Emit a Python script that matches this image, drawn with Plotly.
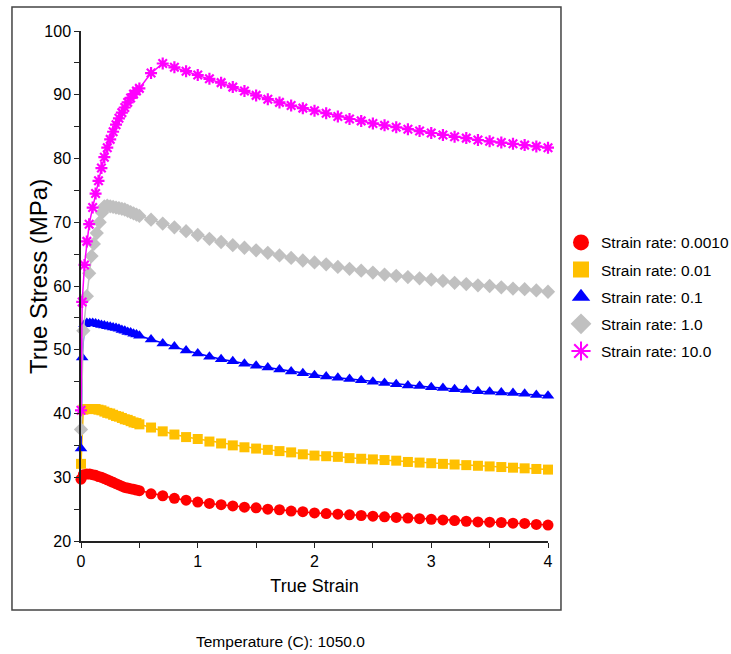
import plotly.graph_objects as go

# Shared tail strain values (0.6 .. 4.0)
strain_tail = [0.6, 0.7, 0.8, 0.9, 1.0, 1.1, 1.2, 1.3, 1.4, 1.5, 1.6, 1.7, 1.8, 1.9, 2.0,
               2.1, 2.2, 2.3, 2.4, 2.5, 2.6, 2.7, 2.8, 2.9, 3.0, 3.1, 3.2, 3.3, 3.4, 3.5,
               3.6, 3.7, 3.8, 3.9, 4.0]

# Strain rate 0.0010
strain_r0001 = [0, 0.02, 0.05, 0.075, 0.1, 0.125, 0.15, 0.175, 0.2, 0.225, 0.25, 0.275, 0.3,
                0.325, 0.35, 0.375, 0.4, 0.425, 0.45, 0.475, 0.5]
stress_r0001 = [29.7, 30.4, 30.5, 30.5, 30.4, 30.3, 30.1, 30.0, 29.8, 29.6, 29.4, 29.2, 29.0,
                28.8, 28.6, 28.4, 28.3, 28.2, 28.1, 28.0, 27.9,
                27.4, 27.1, 26.7, 26.4, 26.1, 25.9, 25.7, 25.5, 25.3, 25.2, 25.0, 24.9, 24.7,
                24.6, 24.4, 24.3, 24.2, 24.1, 24.0, 23.9, 23.8, 23.7, 23.6, 23.5, 23.4, 23.3,
                23.2, 23.1, 23.0, 22.95, 22.9, 22.8, 22.75, 22.6, 22.5]

# Strain rate 0.01
strain_r001 = [0, 0.02, 0.05, 0.075, 0.1, 0.125, 0.15, 0.175, 0.2, 0.225, 0.25, 0.275, 0.3,
               0.325, 0.35, 0.375, 0.4, 0.425, 0.45, 0.475, 0.5]
stress_r001 = [32.1, 40.6, 40.7, 40.7, 40.7, 40.7, 40.6, 40.5, 40.3, 40.1, 40.0, 39.8, 39.6,
               39.5, 39.3, 39.1, 39.0, 38.8, 38.6, 38.5, 38.3,
               37.8, 37.2, 36.7, 36.3, 36.0, 35.6, 35.3, 35.0, 34.7, 34.5, 34.3, 34.1, 33.9,
               33.6, 33.4, 33.3, 33.2, 33.0, 32.9, 32.8, 32.7, 32.6, 32.4, 32.3, 32.2, 32.1,
               32.0, 31.9, 31.8, 31.7, 31.6, 31.5, 31.4, 31.3, 31.2]

# Strain rate 0.1
strain_r01 = [0, 0.01, 0.03, 0.05, 0.075, 0.1, 0.125, 0.15, 0.175, 0.2, 0.225, 0.25, 0.275, 0.3,
              0.325, 0.35, 0.375, 0.4, 0.425, 0.45, 0.475, 0.5]
stress_r01 = [34.5, 48.8, 54.0, 54.2, 54.2, 54.2, 54.1, 54.0, 53.9, 53.8, 53.7, 53.6, 53.5, 53.4,
              53.3, 53.1, 53.0, 52.8, 52.7, 52.5, 52.4, 52.2,
              51.6, 51.0, 50.5, 49.9, 49.4, 48.9, 48.5, 48.2, 47.8, 47.5, 47.2, 46.9, 46.6,
              46.3, 46.0, 45.8, 45.6, 45.4, 45.2, 45.0, 44.8, 44.6, 44.4, 44.3, 44.1, 44.0,
              43.8, 43.7, 43.5, 43.4, 43.3, 43.2, 43.1, 42.9, 42.8]

# Strain rate 1.0
strain_r1 = [0, 0.02, 0.05, 0.07, 0.09, 0.11, 0.135, 0.16, 0.18, 0.2, 0.225, 0.25, 0.275, 0.3,
             0.325, 0.35, 0.375, 0.4, 0.425, 0.45, 0.475, 0.5]
stress_r1 = [37.5, 53.0, 58.4, 62.0, 64.7, 66.6, 68.3, 70.0, 71.5, 72.5, 72.6, 72.5, 72.4, 72.3,
             72.2, 72.1, 72.0, 71.8, 71.6, 71.4, 71.2, 71.0,
             70.4, 69.8, 69.2, 68.6, 68.0, 67.4, 66.9, 66.4, 66.0, 65.6, 65.2, 64.8, 64.4,
             64.0, 63.7, 63.4, 63.0, 62.7, 62.4, 62.1, 61.8, 61.6, 61.4, 61.2, 61.0, 60.8,
             60.5, 60.3, 60.1, 60.0, 59.8, 59.6, 59.5, 59.3, 59.1]

# Strain rate 10.0
strain_r10 = [0, 0.01, 0.03, 0.05, 0.07, 0.1, 0.125, 0.15, 0.175, 0.2, 0.225, 0.25, 0.275, 0.3,
              0.325, 0.35, 0.375, 0.4, 0.425, 0.45, 0.475, 0.5]
stress_r10 = [40.5, 57.5, 63.3, 67.0, 69.7, 72.3, 74.5, 76.5, 78.5, 80.2, 81.7, 83.0, 84.2, 85.3,
              86.3, 87.2, 88.0, 88.8, 89.5, 90.1, 90.6, 91.0,
              93.4, 94.9, 94.3, 93.7, 93.1, 92.5, 91.9, 91.2, 90.6, 89.9, 89.3, 88.8, 88.3,
              87.9, 87.5, 87.1, 86.6, 86.2, 85.9, 85.5, 85.2, 84.9, 84.6, 84.3, 84.0, 83.7,
              83.4, 83.2, 82.9, 82.7, 82.5, 82.3, 82.1, 81.9, 81.7]

series = [
    ("Strain rate: 0.0010", strain_r0001, stress_r0001, "#ff0000", "circle", 11),
    ("Strain rate: 0.01", strain_r001, stress_r001, "#ffc000", "square", 10),
    ("Strain rate: 0.1", strain_r01, stress_r01, "#0000ff", "triangle-up", 11),
    ("Strain rate: 1.0", strain_r1, stress_r1, "#c0c0c0", "diamond", 11),
    ("Strain rate: 10.0", strain_r10, stress_r10, "#ff00ff", "asterisk-open", 10),
]

fig = go.Figure()
for i, (name, xs, ys, color, symbol, size) in enumerate(series):
    marker = dict(symbol=symbol, size=size, color=color)
    if symbol == "asterisk-open":
        marker["line"] = dict(color=color, width=2.2)
    else:
        marker["line"] = dict(width=0)
    fig.add_trace(go.Scatter(
        x=xs + strain_tail, y=ys, mode="lines+markers", name=name,
        line=dict(color=color, width=1.5), marker=marker, cliponaxis=False,
        showlegend=False,
    ))
    # legend entry: marker only, larger symbol as in the reference legend
    leg_marker = dict(symbol=symbol, size=16, color=color)
    if symbol == "asterisk-open":
        leg_marker["line"] = dict(color=color, width=2)
    else:
        leg_marker["line"] = dict(width=0)
    fig.add_trace(go.Scatter(
        x=[None], y=[None], mode="markers", name=name, marker=leg_marker,
        legendgroup=f"g{i}", showlegend=True,
    ))

font = "Liberation Sans, Arial, sans-serif"
fig.update_layout(
    width=731, height=654,
    margin=dict(l=81, r=183, t=31, b=113, autoexpand=False),
    paper_bgcolor="white", plot_bgcolor="white",
    font=dict(family=font, color="black"),
    showlegend=True,
    legend=dict(x=(561 - 81) / 467, y=0.618, xanchor="left", yanchor="top",
                font=dict(size=15.5, family=font), traceorder="grouped",
                tracegroupgap=4, itemsizing="trace", bgcolor="rgba(0,0,0,0)"),
    xaxis=dict(range=[0, 4], tickvals=[0, 1, 2, 3, 4], showgrid=False, zeroline=False,
               showline=True, linecolor="#222", linewidth=1.5, ticks="outside",
               ticklen=5, tickwidth=1.2, tickcolor="#222",
               minor=dict(dtick=0.5, ticks="outside", ticklen=5, tickwidth=1.2, tickcolor="#222", showgrid=False),
               tickfont=dict(size=16, family=font),
               title=dict(text="True Strain", font=dict(size=18, family=font), standoff=10)),
    yaxis=dict(range=[20, 100], tickvals=[20, 30, 40, 50, 60, 70, 80, 90, 100], showgrid=False,
               zeroline=False, showline=True, linecolor="#222", linewidth=1.5, ticks="outside",
               ticklen=5, tickwidth=1.2, tickcolor="#222",
               minor=dict(dtick=5, ticks="outside", ticklen=5, tickwidth=1.2, tickcolor="#222", showgrid=False),
               tickfont=dict(size=16, family=font)),
    shapes=[dict(type="rect", xref="paper", yref="paper",
                 x0=-0.1478, x1=1.0278, y0=-0.1353, y1=1.047,
                 line=dict(color="#444", width=1.5), fillcolor="rgba(0,0,0,0)", layer="below")],
    annotations=[
        dict(text="True Stress (MPa)", xref="paper", yref="paper",
             x=(38 - 81) / 467, y=(541 - 277) / 510, showarrow=False, textangle=-90,
             xanchor="center", yanchor="middle",
             font=dict(size=24, family=font, color="black")),
        dict(text="Temperature (C): 1050.0", xref="paper", yref="paper",
             x=(280 - 81) / 467, y=(541 - 641) / 510, showarrow=False,
             xanchor="center", yanchor="middle",
             font=dict(size=15.5, family=font, color="black")),
    ],
)

fig.write_html("out.html")
